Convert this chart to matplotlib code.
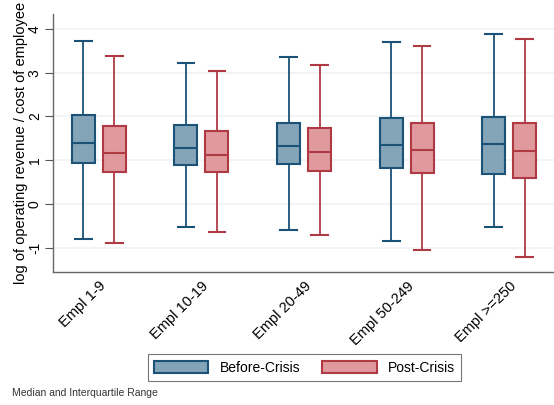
import matplotlib
matplotlib.use("Agg")
import matplotlib.pyplot as plt
from matplotlib.patches import Patch

plt.rcParams['font.family'] = ['Liberation Sans', 'DejaVu Sans']

categories = ["Empl 1-9", "Empl 10-19", "Empl 20-49", "Empl 50-249", "Empl >=250"]

# lower whisker, q1, median, q3, upper whisker
before_lo = [-0.79, -0.53, -0.59, -0.85, -0.52]
before_q1 = [0.93, 0.89, 0.91, 0.83, 0.69]
before_med = [1.39, 1.28, 1.33, 1.35, 1.38]
before_q3 = [2.03, 1.81, 1.86, 1.97, 1.98]
before_hi = [3.73, 3.23, 3.35, 3.70, 3.89]

post_lo = [-0.89, -0.63, -0.71, -1.04, -1.21]
post_q1 = [0.72, 0.74, 0.76, 0.71, 0.59]
post_med = [1.16, 1.13, 1.18, 1.23, 1.21]
post_q3 = [1.78, 1.66, 1.74, 1.84, 1.84]
post_hi = [3.37, 3.04, 3.18, 3.60, 3.76]

blue_face, blue_edge = "#84a4b7", "#1b5277"
red_face, red_edge = "#e09a9e", "#b03a44"


def make_stats(lo, q1, med, q3, hi):
    return [dict(whislo=a, q1=b, med=c, q3=d, whishi=e, fliers=[])
            for a, b, c, d, e in zip(lo, q1, med, q3, hi)]


fig = plt.figure(figsize=(5.54, 4.05), dpi=100)
ax = fig.add_axes([53 / 554, (405 - 272) / 405, 501 / 554, (272 - 14) / 405])

centers = list(range(1, len(categories) + 1))
off, bw, cw = 0.151, 0.224, 0.163

for stats, shift, fc, ec in [
    (make_stats(before_lo, before_q1, before_med, before_q3, before_hi), -off, blue_face, blue_edge),
    (make_stats(post_lo, post_q1, post_med, post_q3, post_hi), off, red_face, red_edge),
]:
    ax.bxp(stats, positions=[c + shift for c in centers], widths=bw,
           capwidths=cw, patch_artist=True, showfliers=False, manage_ticks=False,
           boxprops=dict(facecolor=fc, edgecolor=ec, linewidth=1.5),
           medianprops=dict(color=ec, linewidth=1.5),
           whiskerprops=dict(color=ec, linewidth=1.3),
           capprops=dict(color=ec, linewidth=1.5))

ax.set_xlim(0.554, 5.436)
ax.set_ylim(-1.554, 4.34)
ax.set_yticks([-1, 0, 1, 2, 3, 4])
ax.set_yticklabels(["-1", "0", "1", "2", "3", "4"], rotation=90, va='center')
ax.set_xticks(centers)
ax.set_xticklabels(categories, rotation=45, ha='right', va='top', rotation_mode='anchor')
ax.tick_params(axis='y', length=6, width=0.8, color='#555555', labelsize=10, pad=2)
ax.tick_params(axis='x', length=0, labelsize=10.5, pad=5)
ax.grid(axis='y', color='#eef2f6', linewidth=1.2)
ax.set_axisbelow(True)
for s in ['top', 'right']:
    ax.spines[s].set_visible(False)
for s in ['left', 'bottom']:
    ax.spines[s].set_color('#666666')
    ax.spines[s].set_linewidth(1.0)

ax.set_ylabel("log of operating revenue / cost of employee", fontsize=10.5, labelpad=0)

handles = [Patch(facecolor=blue_face, edgecolor=blue_edge, linewidth=1.5, label="Before-Crisis"),
           Patch(facecolor=red_face, edgecolor=red_edge, linewidth=1.5, label="Post-Crisis")]
leg = fig.legend(handles=handles, ncol=2, loc='center', bbox_to_anchor=(304.5 / 554, (405 - 367.5) / 405),
                 fontsize=10, frameon=True, fancybox=False, edgecolor='#555555',
                 handlelength=3.9, handleheight=1.0, handletextpad=0.8, columnspacing=1.6,
                 borderpad=0.45)
leg.get_frame().set_linewidth(0.8)

fig.text(12 / 554, (405 - 393) / 405, "Median and Interquartile Range", fontsize=7.5,
         color='#333333', va='center', ha='left')

fig.savefig("out.png", dpi=100)
